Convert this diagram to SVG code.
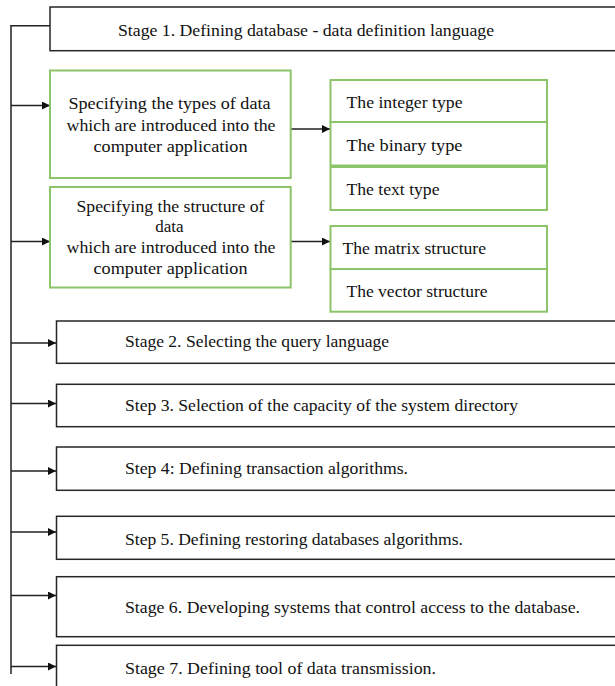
<svg xmlns="http://www.w3.org/2000/svg" width="615" height="686" viewBox="0 0 615 686">
<style>
.blk{fill:#fff;stroke:#262626;stroke-width:1.5}
.grn{fill:#fff;stroke:#8cc46a;stroke-width:2}
.t{font-family:"Liberation Serif","Times New Roman",serif;font-size:17px;fill:#111}
.m{text-anchor:middle}
.c{fill:none;stroke:#222;stroke-width:1.5}
</style>
<defs>
<marker id="ah" markerWidth="8" markerHeight="8" refX="8" refY="4" orient="auto" markerUnits="userSpaceOnUse">
<path d="M0,0 L8,4 L0,8 Z" fill="#111"/>
</marker>
</defs>
<g id="connectors">
<line class="c" x1="11" y1="25.7" x2="11" y2="674"/>
<line class="c" x1="10.25" y1="25.7" x2="50" y2="25.7"/>
<line class="c" x1="11" y1="105.5" x2="50" y2="105.5" marker-end="url(#ah)"/>
<line class="c" x1="11" y1="241.5" x2="50" y2="241.5" marker-end="url(#ah)"/>
<line class="c" x1="291" y1="129" x2="330" y2="129" marker-end="url(#ah)"/>
<line class="c" x1="291" y1="241.5" x2="330" y2="241.5" marker-end="url(#ah)"/>
<line class="c" x1="11" y1="343" x2="56" y2="343" marker-end="url(#ah)"/>
<line class="c" x1="11" y1="403.5" x2="56" y2="403.5" marker-end="url(#ah)"/>
<line class="c" x1="11" y1="471" x2="56" y2="471" marker-end="url(#ah)"/>
<line class="c" x1="11" y1="532" x2="56" y2="532" marker-end="url(#ah)"/>
<line class="c" x1="11" y1="595.5" x2="56" y2="595.5" marker-end="url(#ah)"/>
<line class="c" x1="11" y1="666.5" x2="56" y2="666.5" marker-end="url(#ah)"/>
</g>
<g id="stage1">
<rect class="blk" x="50" y="7" width="580" height="43.7"/>
<text class="t" x="118" y="36" textLength="376" lengthAdjust="spacingAndGlyphs">Stage 1. Defining database - data definition language</text>
</g>
<g id="types-of-data">
<rect class="grn" x="50" y="70.5" width="240.7" height="107.5"/>
<text class="t m" x="169.5" y="109" textLength="202" lengthAdjust="spacingAndGlyphs">Specifying the types of data</text>
<text class="t m" x="171" y="130.5" textLength="209" lengthAdjust="spacingAndGlyphs">which are introduced into the</text>
<text class="t m" x="170.5" y="152" textLength="154" lengthAdjust="spacingAndGlyphs">computer application</text>
</g>
<g id="integer-type">
<rect class="grn" x="330.5" y="80" width="216.5" height="42"/>
<text class="t" x="346.5" y="107.5" textLength="116" lengthAdjust="spacingAndGlyphs">The integer type</text>
</g>
<g id="binary-type">
<rect class="grn" x="330.5" y="122" width="216.5" height="43.5"/>
<text class="t" x="346.5" y="150.5" textLength="116" lengthAdjust="spacingAndGlyphs">The binary type</text>
</g>
<g id="text-type">
<rect class="grn" x="330.5" y="167" width="216.5" height="43"/>
<text class="t" x="346.5" y="195" textLength="93" lengthAdjust="spacingAndGlyphs">The text type</text>
</g>
<g id="structure-of-data">
<rect class="grn" x="50" y="187" width="240.7" height="100.5"/>
<text class="t m" x="170.5" y="211.5" textLength="188" lengthAdjust="spacingAndGlyphs">Specifying the structure of</text>
<text class="t m" x="169.5" y="232">data</text>
<text class="t m" x="171" y="253" textLength="209" lengthAdjust="spacingAndGlyphs">which are introduced into the</text>
<text class="t m" x="170.5" y="274" textLength="154" lengthAdjust="spacingAndGlyphs">computer application</text>
</g>
<g id="matrix-structure">
<rect class="grn" x="330.5" y="226" width="216.5" height="43"/>
<text class="t" x="342.5" y="254" textLength="143.5" lengthAdjust="spacingAndGlyphs">The matrix structure</text>
</g>
<g id="vector-structure">
<rect class="grn" x="330.5" y="269" width="216.5" height="42.7"/>
<text class="t" x="346.5" y="296.7" textLength="141" lengthAdjust="spacingAndGlyphs">The vector structure</text>
</g>
<g id="stage2">
<rect class="blk" x="56.5" y="321" width="580" height="42.3"/>
<text class="t" x="125" y="347.3" textLength="264" lengthAdjust="spacingAndGlyphs">Stage 2. Selecting the query language</text>
</g>
<g id="step3">
<rect class="blk" x="56.5" y="384.3" width="580" height="42.4"/>
<text class="t" x="125" y="410.5" textLength="393" lengthAdjust="spacingAndGlyphs">Step 3. Selection of the capacity of the system directory</text>
</g>
<g id="step4">
<rect class="blk" x="56.5" y="447" width="580" height="43.3"/>
<text class="t" x="125" y="474.3" textLength="283" lengthAdjust="spacingAndGlyphs">Step 4: Defining transaction algorithms.</text>
</g>
<g id="step5">
<rect class="blk" x="56.5" y="516.3" width="580" height="43"/>
<text class="t" x="125" y="545" textLength="338" lengthAdjust="spacingAndGlyphs">Step 5. Defining restoring databases algorithms.</text>
</g>
<g id="stage6">
<rect class="blk" x="56.5" y="576.7" width="580" height="60"/>
<text class="t" x="125" y="613.3" textLength="455" lengthAdjust="spacingAndGlyphs">Stage 6. Developing systems that control access to the database.</text>
</g>
<g id="stage7">
<rect class="blk" x="56.5" y="645.3" width="580" height="50"/>
<text class="t" x="125" y="674.3" textLength="311" lengthAdjust="spacingAndGlyphs">Stage 7.  Defining tool of data transmission.</text>
</g>
</svg>
